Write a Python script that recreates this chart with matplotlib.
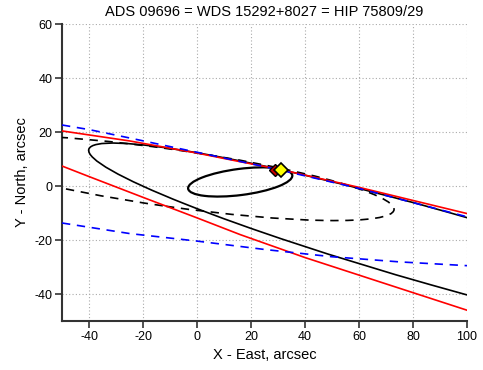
import matplotlib
matplotlib.use('Agg')
import matplotlib.pyplot as plt
from matplotlib.patches import Ellipse

plt.rcParams['font.family'] = ['Liberation Sans', 'DejaVu Sans']
plt.rcParams['axes.unicode_minus'] = False

# Curves (arcsec)
red_upper_x = [-50, -25, 0, 16, 30, 60, 100]
red_upper_y = [20.4, 16.7, 12.2, 9.0, 6.3, -0.5, -10.2]
red_lower_x = [-50, -40, -20, 0, 16, 40, 64, 100]
red_lower_y = [7.4, 3.5, -4.2, -11.8, -18.0, -26.5, -34.3, -46.0]
blue_upper_x = [-50, -40, -25, -10, 0, 30, 60, 100]
blue_upper_y = [22.6, 20.9, 17.8, 14.6, 12.5, 6.1, -0.9, -11.4]
blue_lower_x = [-50, -25, 0, 25, 50, 75, 100]
blue_lower_y = [-13.7, -17.6, -20.4, -23.5, -26.2, -28.1, -29.5]

# Orbit ellipses: centre, full width, full height, angle (deg)
small_orbit = ((16.0, 1.5), 38.9, 9.7, 7.3)
big_orbit = ((90.3, -23.3), 271.0, 27.6, -15.8)
dashed_orbit = ((-10.0, 3.0), 167.6, 21.2, -8.1)

# Star positions
star_x, star_y = 31.0, 5.9
prev_x, prev_y = 28.8, 6.0

fig = plt.figure(figsize=(4.83, 3.70), dpi=100)
ax = fig.add_axes([0.1284, 0.1324, 0.8385, 0.8027])

grid_kw = dict(color='#aaaaaa', linestyle=(0, (1, 2)), linewidth=0.8)
ax.grid(True, **grid_kw)
ax.set_axisbelow(True)

# ellipses
for (c, w, h, a), ls in [(big_orbit, '-'), (small_orbit, '-'), (dashed_orbit, (0, (5, 4)))]:
    lw = 1.6 if w < 50 else 1.2
    ax.add_patch(Ellipse(c, w, h, angle=a, fill=False, edgecolor='black',
                         linewidth=lw, linestyle=ls, zorder=3))

ax.plot(red_lower_x, red_lower_y, color='red', linewidth=1.2, zorder=4)
ax.plot(blue_lower_x, blue_lower_y, color='blue', linewidth=1.2,
        linestyle=(0, (5, 4)), zorder=4)
ax.plot(red_upper_x, red_upper_y, color='red', linewidth=1.2, zorder=4)
ax.plot(blue_upper_x, blue_upper_y, color='blue', linewidth=1.2,
        linestyle=(0, (5, 4)), zorder=5)

ax.plot(prev_x, prev_y, marker='D', markersize=6, color='#cc0000',
        markeredgecolor='black', markeredgewidth=1.0, zorder=6)
ax.plot(star_x, star_y, marker='D', markersize=7, color='yellow',
        markeredgecolor='black', markeredgewidth=1.2, zorder=7)

ax.set_xlim(-50, 100)
ax.set_ylim(-50, 60)
ax.set_xticks(range(-40, 101, 20))
ax.set_yticks(range(-40, 61, 20))

for s in ['top', 'right']:
    ax.spines[s].set_visible(False)
for s in ['left', 'bottom']:
    ax.spines[s].set_color('#333333')
    ax.spines[s].set_linewidth(1.5)
ax.tick_params(direction='out', length=5, width=1.2, color='#333333',
               labelsize=9, pad=2)

ax.set_title('ADS 09696 = WDS 15292+8027 = HIP 75809/29', fontsize=10.5, pad=6)
ax.set_xlabel('X - East, arcsec', fontsize=10.5, labelpad=4)
ax.set_ylabel('Y - North, arcsec', fontsize=10.5, labelpad=4)

fig.savefig('out.png', dpi=100)
